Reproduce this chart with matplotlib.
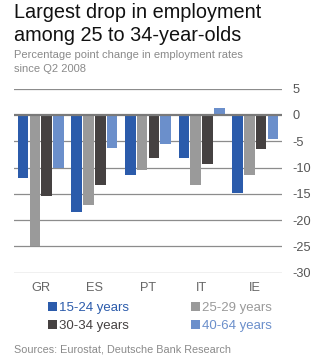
import matplotlib
matplotlib.use("Agg")
import matplotlib.pyplot as plt
import numpy as np
from matplotlib.patches import Patch

plt.rcParams['font.family'] = ['Liberation Sans', 'DejaVu Sans']
plt.rcParams['axes.unicode_minus'] = False

countries = ["GR", "ES", "PT", "IT", "IE"]
series_names = ["15-24 years", "25-29 years", "30-34 years", "40-64 years"]
v_15_24 = [-12.0, -18.4, -11.4, -8.2, -14.9]
v_25_29 = [-24.9, -17.2, -10.5, -13.4, -11.4]
v_30_34 = [-15.4, -13.4, -8.2, -9.4, -6.5]
v_40_64 = [-10.0, -6.2, -5.5, 1.4, -4.5]
yticks = [5, 0, -5, -10, -15, -20, -25, -30]

colors = ["#2b5bab", "#9a9a9a", "#454141", "#6b8fcb"]
series = [v_15_24, v_25_29, v_30_34, v_40_64]

fig = plt.figure(figsize=(3.28, 3.60), dpi=100)
W, H = 328, 360
ax = fig.add_axes([14 / W, 1 - 272.7 / H, (282 - 14) / W, (272.7 - 88.7) / H])

x = np.arange(len(countries))
offsets = [-0.33, -0.11, 0.11, 0.33]
bars = []
for vals, off, c in zip(series, offsets, colors):
    b = ax.bar(x + off, vals, width=0.2, color=c, zorder=3)
    bars.append(b)

ax.set_xlim(-0.5, len(countries) - 0.5)
ax.set_ylim(-30, 5)
ax.set_yticks(yticks)
ax.set_yticklabels([str(t) for t in yticks])
for t in yticks:
    if t == 0:
        ax.axhline(t, color="#7a7a7a", lw=1.6, zorder=4)
    else:
        ax.axhline(t, color="#8c8c8c", lw=0.9, zorder=1)
for s in ax.spines.values():
    s.set_visible(False)
ax.yaxis.tick_right()
ax.tick_params(axis="y", length=0, pad=7.5, labelsize=9.2, labelcolor="#555555")
ax.set_xticks(x)
ax.set_xticklabels(countries)
ax.tick_params(axis="x", length=0, pad=7, labelsize=9.2, labelcolor="#666666")

fig.text(14 / W, 1 - 18.3 / H, "Largest drop in employment", fontsize=14.3,
         color="#111111", va="baseline", ha="left")
fig.text(14 / W, 1 - 41 / H, "among 25 to 34-year-olds", fontsize=14.3,
         color="#111111", va="baseline", ha="left")
fig.text(14 / W, 1 - 58.3 / H, "Percentage point change in employment rates", fontsize=8.05,
         color="#8a8a8a", va="baseline", ha="left")
fig.text(14 / W, 1 - 71.7 / H, "since Q2 2008", fontsize=8.05,
         color="#8a8a8a", va="baseline", ha="left")
fig.text(14 / W, 1 - 352 / H, "Sources: Eurostat, Deutsche Bank Research", fontsize=7.8,
         color="#8a8a8a", va="baseline", ha="left")

order = [0, 2, 1, 3]
handles = [Patch(facecolor=colors[i], edgecolor="none") for i in order]
labels = [series_names[i] for i in order]
leg = fig.legend(handles, labels, ncol=2, loc="upper left",
                 bbox_to_anchor=(48 / W, 1 - 302 / H), frameon=False,
                 fontsize=9.5, handlelength=0.7, handleheight=0.7,
                 handletextpad=0.15, columnspacing=4.7, labelspacing=0.4,
                 borderpad=0, borderaxespad=0)
for txt, i in zip(leg.get_texts(), order):
    txt.set_color(colors[i])

fig.savefig("out.png", dpi=100)
